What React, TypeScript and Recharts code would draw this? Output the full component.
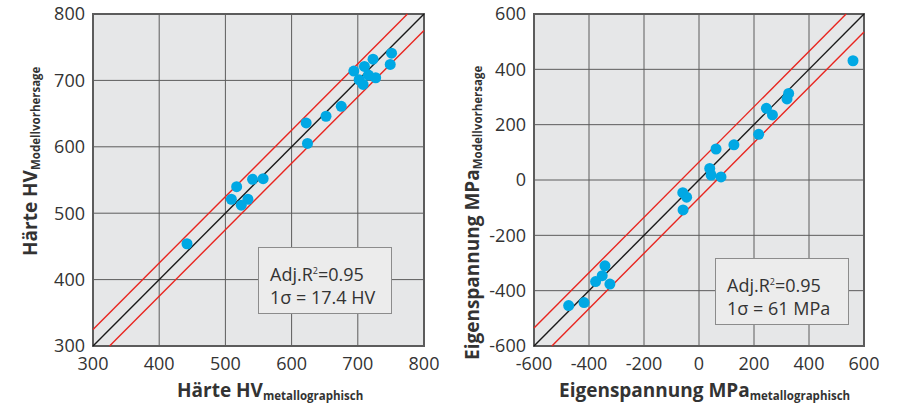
import { ScatterChart, Scatter, XAxis, YAxis, CartesianGrid, ReferenceLine, ReferenceArea, Label } from "recharts";

// Härte HV: metallographisch (x) vs. Modellvorhersage (y)
const hvMetallo = [751, 749, 723, 710, 694, 716, 727, 702, 708, 675, 652, 622, 624, 557, 541, 517, 509, 534, 524, 442];
const hvModell = [741, 724, 732, 721, 714, 708, 704, 701, 694, 661, 646, 636, 605, 552, 551, 540, 521, 521, 512, 454];
const hvTicks = [300, 400, 500, 600, 700, 800];
const hvBand = 25;

// Eigenspannung MPa: metallographisch (x) vs. Modellvorhersage (y)
const esMetallo = [560, 326, 320, 245, 267, 217, 127, 62, 39, 44, 80, -59, -45, -58, -342, -352, -376, -324, -418, -474];
const esModell = [431, 313, 293, 259, 235, 165, 127, 112, 42, 18, 11, -46, -62, -108, -310, -346, -367, -376, -443, -454];
const esTicks = [-600, -400, -200, 0, 200, 400, 600];
const esBand = 65;

const hvData = hvMetallo.map((x, i) => ({ x, y: hvModell[i] }));
const esData = esMetallo.map((x, i) => ({ x, y: esModell[i] }));

const FONT = "'Open Sans', sans-serif";
const tickStyle = { fill: "#333", fontSize: 18, fontFamily: FONT };

const dot = (p: any) => <circle cx={p.cx} cy={p.cy} r={5.5} fill="#00a8e4" />;

const ParityChart = ({
  data, ticks, band, width, rightMargin, yAxisWidth,
  title, xTitleX, yTitleX, yTitleY,
}: {
  data: Array<{ x: number; y: number }>;
  ticks: number[];
  band: number;
  width: number;
  rightMargin: number;
  yAxisWidth: number;
  title: string;
  xTitleX: number;
  yTitleX: number;
  yTitleY: number;
}) => {
  const lo = ticks[0];
  const hi = ticks[ticks.length - 1];
  return (
    <ScatterChart width={width} height={408} margin={{ top: 14, right: rightMargin, left: 0, bottom: 32 }}>
      <CartesianGrid stroke="#5c5c5c" strokeWidth={1} fill="#e6e7e8" />
      <XAxis type="number" dataKey="x" domain={[lo, hi]} ticks={ticks} interval={0}
        tick={tickStyle} tickLine={false} axisLine={false} tickMargin={5}>
        <Label content={() => (
          <text x={xTitleX} y={397} fontFamily={FONT} fontWeight="bold" fontSize={19} fill="#333">
            {title}
            <tspan dy={3} fontSize={11.5}>metallographisch</tspan>
          </text>
        )} />
      </XAxis>
      <YAxis type="number" dataKey="y" domain={[lo, hi]} ticks={ticks} interval={0} width={yAxisWidth}
        tick={tickStyle} tickLine={false} axisLine={false}>
        <Label content={() => (
          <text x={yTitleX} y={yTitleY} transform={`rotate(-90, ${yTitleX}, ${yTitleY})`}
            fontFamily={FONT} fontWeight="bold" fontSize={19} fill="#333">
            {title}
            <tspan dy={3} fontSize={11.5}>Modellvorhersage</tspan>
          </text>
        )} />
      </YAxis>
      <ReferenceArea x1={lo} x2={hi} y1={lo} y2={hi} fill="none" stroke="#5c5c5c" strokeWidth={2} />
      <ReferenceLine segment={[{ x: lo, y: lo + band }, { x: hi - band, y: hi }]} stroke="#e8251f" strokeWidth={1.4} />
      <ReferenceLine segment={[{ x: lo + band, y: lo }, { x: hi, y: hi - band }]} stroke="#e8251f" strokeWidth={1.4} />
      <ReferenceLine segment={[{ x: lo, y: lo }, { x: hi, y: hi }]} stroke="#1a1a1a" strokeWidth={1.4} />
      <Scatter data={data} shape={dot} isAnimationActive={false} />
    </ScatterChart>
  );
};

const Note = ({ left, top, sigma }: { left: number; top: number; sigma: string }) => (
  <div style={{
    position: "absolute", left, top, width: 134, height: 67, boxSizing: "border-box",
    background: "#ececec", border: "1px solid #8c8c8c", padding: "11px 0 0 11px",
    fontFamily: FONT, fontSize: 18, lineHeight: "23px", color: "#333",
  }}>
    <div>Adj.R<sup style={{ fontSize: 9, verticalAlign: "7px" }}>2</sup>=0.95</div>
    <div>1σ = {sigma}</div>
  </div>
);

export default function App() {
  return (
    <div style={{ position: "absolute", left: 0, top: 0, width: 902, height: 408, background: "#fff" }}>
      <div style={{ position: "absolute", left: 0, top: 0 }}>
        <ParityChart data={hvData} ticks={hvTicks} band={hvBand} width={440} rightMargin={16} yAxisWidth={93}
          title="Härte HV" xTitleX={177} yTitleX={37} yTitleY={256} />
      </div>
      <div style={{ position: "absolute", left: 440, top: 0 }}>
        <ParityChart data={esData} ticks={esTicks} band={esBand} width={462} rightMargin={38} yAxisWidth={94}
          title="Eigenspannung MPa" xTitleX={119} yTitleX={39} yTitleY={360} />
      </div>
      <Note left={258} top={247} sigma="17.4 HV" />
      <Note left={715} top={258} sigma="61 MPa" />
    </div>
  );
}
